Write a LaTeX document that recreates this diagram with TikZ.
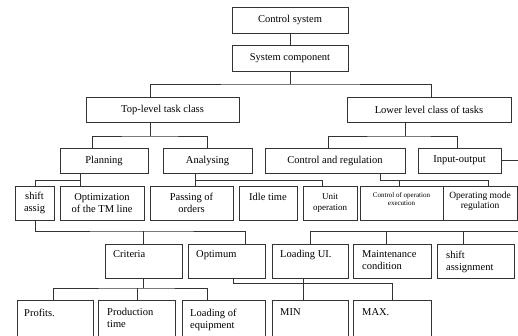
\documentclass[tikz,border=0pt]{standalone}
\usepackage{fontspec}
\setmainfont{Liberation Serif}
\begin{document}
\begin{tikzpicture}[x=1pt,y=-1pt,
  box/.style={draw=black!80, line width=1pt, inner sep=1pt, align=center, font=\fontsize{10.5}{12}\selectfont},
  ln/.style={draw=black!80, line width=1pt},
  lt/.style={anchor=north west, inner sep=0pt, align=left, font=\fontsize{10.5}{12}\selectfont}]
\useasboundingbox[fill=white] (0,0) rectangle (518,335);
% row 1-3
\node[box, minimum width=116pt, minimum height=26pt] (cs) at (290,20) {Control system};
\node[box, minimum width=116pt, minimum height=26pt] (sc) at (290,58) {System component};
\node[box, minimum width=153pt, minimum height=25pt] (tl) at (162.5,109.5) {Top-level task class};
\node[box, minimum width=164pt, minimum height=25pt] (ll) at (429,109.5) {Lower level class of tasks};
\node[box, minimum width=88pt, minimum height=25pt] (pl) at (104,160.5) {Planning};
\node[box, minimum width=89pt, minimum height=25pt] (an) at (207.5,160.5) {Analysing};
\node[box, minimum width=140pt, minimum height=25pt] (cr) at (335,160.5) {Control and regulation};
\node[box, minimum width=83pt, minimum height=25pt] (io) at (459.5,160.5) {Input-output};
% row 4
\node[box, minimum width=39pt, minimum height=34pt] (sa) at (34.5,203) {shift\\assig};
\node[box, minimum width=84pt, minimum height=34pt] (op) at (102,203) {Optimization\\of the TM line};
\node[box, minimum width=83pt, minimum height=34pt] (po) at (191.5,203) {Passing of\\orders};
\node[box, minimum width=58pt, minimum height=34pt] (it) at (268,203) {Idle time\\\phantom{x}};
\node[box, minimum width=54pt, minimum height=34pt, font=\fontsize{9}{11}\selectfont] (uo) at (330,203) {Unit\\operation};
\node[box, minimum width=83pt, minimum height=34pt, font=\fontsize{7}{8}\selectfont] (co) at (401.5,203) {Control of operation\\execution\\\phantom{x}};
\node[box, minimum width=74pt, minimum height=34pt, font=\fontsize{9.5}{10.5}\selectfont] (om) at (480,203) {Operating mode\\regulation\\[-5pt]\phantom{x}};
% row 5
\node[box, minimum width=77pt, minimum height=34pt] (cri) at (143.5,261) {};
\node[box, minimum width=77pt, minimum height=34pt] (opt) at (226.5,261) {};
\node[box, minimum width=76pt, minimum height=34pt] (lui) at (310,261) {};
\node[box, minimum width=78pt, minimum height=34pt] (mc) at (392,261) {};
\node[box, minimum width=77pt, minimum height=34pt] (sh) at (475.5,261) {};
\node[lt] (cri-t) at (113,250.5) {Criteria};
\node[lt] (opt-t) at (196,250.5) {Optimum};
\node[lt] (lui-t) at (280,250.5) {Loading UI.};
\node[lt] (mc-t) at (362,250.5) {Maintenance\\condition};
\node[lt] (sh-t) at (446,250.5) {shift\\assignment};
% row 6
\node[box, minimum width=76pt, minimum height=40pt] (pr) at (55,320) {};
\node[box, minimum width=77pt, minimum height=40pt] (pt) at (136.5,320) {};
\node[box, minimum width=83pt, minimum height=40pt] (le) at (223.5,320) {};
\node[box, minimum width=76pt, minimum height=40pt] (mn) at (310,320) {};
\node[box, minimum width=78pt, minimum height=40pt] (mx) at (392,320) {};
\node[lt] (pr-t) at (24,308.5) {Profits.};
\node[lt] (pt-t) at (107,308.5) {Production\\time};
\node[lt] (le-t) at (190,308.5) {Loading of\\equipment};
\node[lt] (mn-t) at (280,308.5) {MIN};
\node[lt] (mx-t) at (362,308.5) {MAX.};
% connectors
\draw[ln] (cs.south) -- (sc.north);
\coordinate (j1) at (290,84);
\draw[ln] (sc.south) -- (j1);
\draw[ln] (tl.north -| 150,0) |- (j1) -| (ll.north -| 431,0);
\coordinate (j2) at (150,136);
\draw[ln] (tl.south -| j2) -- (j2);
\draw[ln] (pl.north -| 92,0) |- (j2) -| (an.north -| 207,0);
\coordinate (j3) at (405,136);
\draw[ln] (ll.south -| j3) -- (j3);
\draw[ln] (cr.north -| 328,0) |- (j3) -| (io.north -| 457,0);
\coordinate (e1) at (518,160.5);
\draw[ln] (io.east) -- (e1);
\coordinate (j4) at (80,180);
\draw[ln] (pl.south -| j4) -- (op.north -| j4);
\draw[ln] (sa.north -| 35,0) |- (j4);
\coordinate (j5) at (195,180);
\draw[ln] (an.south -| j5) -- (po.north -| j5);
\draw[ln] (j5) -| (uo.north -| 322,0);
\coordinate (j6) at (380,180);
\draw[ln] (cr.south -| j6) -- (j6) -| (om.north -| 488,0);
\draw[ln] (co.north -| 399,0) -- (j6 -| 399,0);
\coordinate (j7) at (143,231);
\draw[ln] (sa.south -| 35,0) |- (j7) -| (opt.north -| 245,0);
\draw[ln] (j7) -- (cri.north -| j7);
\coordinate (e2) at (518,231);
\draw[ln] (e2) -| (lui.north -| 310,0);
\draw[ln] (mc.north -| 386,0) -- (e2 -| 386,0);
\draw[ln] (sh.north -| 463,0) -- (e2 -| 463,0);
\coordinate (j9) at (143,288);
\draw[ln] (cri.south -| j9) -- (j9);
\draw[ln] (pr.north -| 53,0) |- (j9) -| (le.north -| 207,0);
\draw[ln] (pt.north -| 137,0) -- (j9 -| 137,0);
\coordinate (j10) at (233,283);
\draw[ln] (opt.south -| j10) -- (j10) -| (mx.north -| 392,0);
\draw[ln] (lui.south -| 303,0) -- (mn.north -| 303,0);
\end{tikzpicture}
\end{document}
